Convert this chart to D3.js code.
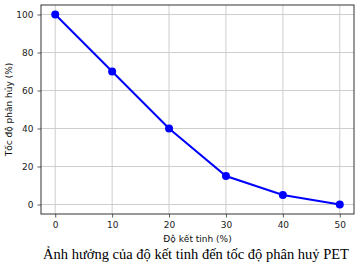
<!DOCTYPE html>
<html>
<head>
<meta charset="utf-8">
<script src="https://cdn.jsdelivr.net/npm/d3@7"></script>
<style>
  body { margin: 0; background: #fff; }
  svg { display: block; }
  .tick text { font-family: "DejaVu Sans", sans-serif; font-size: 9px; fill: #222; }
  .label { font-family: "DejaVu Sans", sans-serif; font-size: 9px; fill: #111; }
  .caption { font-family: "Liberation Serif", "Times New Roman", serif; font-size: 14.5px; fill: #000; }
</style>
</head>
<body>
<div id="chart"></div>
<script>
// crystallinity (%) vs. degradation rate (%)
var crystallinity = [0, 10, 20, 30, 40, 50];
var degradation = [100, 70, 40, 15, 5, 0];
var xTicks = [0, 10, 20, 30, 40, 50];
var yTicks = [0, 20, 40, 60, 80, 100];

var W = 359, H = 267;
var margin = {left: 41, top: 5, right: 5, bottom: 53};
var w = W - margin.left - margin.right;
var h = H - margin.top - margin.bottom;

var svg = d3.select("#chart").append("svg")
    .attr("width", W)
    .attr("height", H);

var chart = svg.append("g")
    .attr("transform", "translate(" + margin.left + "," + margin.top + ")");

// matplotlib-like 5% padding on each side
var xscale = d3.scaleLinear().domain([-2.5, 52.5]).range([0, w]);
var yscale = d3.scaleLinear().domain([-5, 105]).range([h, 0]);

// grid
chart.append("g").selectAll("line")
    .data(xTicks).enter().append("line")
    .attr("x1", d => xscale(d)).attr("x2", d => xscale(d))
    .attr("y1", 0).attr("y2", h)
    .attr("stroke", "#c8c8c8").attr("stroke-width", 0.9);
chart.append("g").selectAll("line")
    .data(yTicks).enter().append("line")
    .attr("y1", d => yscale(d)).attr("y2", d => yscale(d))
    .attr("x1", 0).attr("x2", w)
    .attr("stroke", "#c8c8c8").attr("stroke-width", 0.9);

// axes
var xAxis = chart.append("g")
    .attr("transform", "translate(0," + h + ")")
    .call(d3.axisBottom(xscale).tickValues(xTicks).tickSize(3.5).tickPadding(4));
var yAxis = chart.append("g")
    .call(d3.axisLeft(yscale).tickValues(yTicks).tickSize(3.5).tickPadding(4));
[xAxis, yAxis].forEach(a => {
    a.select(".domain").remove();
    a.selectAll(".tick line").attr("stroke", "#333").attr("stroke-width", 0.8);
});

// frame
chart.append("rect")
    .attr("x", 0).attr("y", 0).attr("width", w).attr("height", h)
    .attr("fill", "none").attr("stroke", "#333").attr("stroke-width", 1);

// line + markers
var pts = crystallinity.map((c, i) => ({x: c, y: degradation[i]}));
chart.append("path")
    .datum(pts)
    .attr("fill", "none")
    .attr("stroke", "#0000ff")
    .attr("stroke-width", 2)
    .attr("d", d3.line().x(d => xscale(d.x)).y(d => yscale(d.y)));
chart.selectAll("circle")
    .data(pts).enter().append("circle")
    .attr("cx", d => xscale(d.x))
    .attr("cy", d => yscale(d.y))
    .attr("r", 4)
    .attr("fill", "#0000ff");

// axis labels
chart.append("text")
    .attr("class", "label")
    .attr("x", w / 2).attr("y", h + 28)
    .attr("text-anchor", "middle")
    .text("Độ kết tinh (%)");
chart.append("text")
    .attr("class", "label")
    .attr("transform", "translate(-29," + (h / 2) + ") rotate(-90)")
    .attr("text-anchor", "middle")
    .text("Tốc độ phân hủy (%)");

// caption
svg.append("text")
    .attr("class", "caption")
    .attr("x", 196).attr("y", 259)
    .attr("text-anchor", "middle")
    .text("Ảnh hưởng của độ kết tinh đến tốc độ phân huỷ PET");
</script>
</body>
</html>
